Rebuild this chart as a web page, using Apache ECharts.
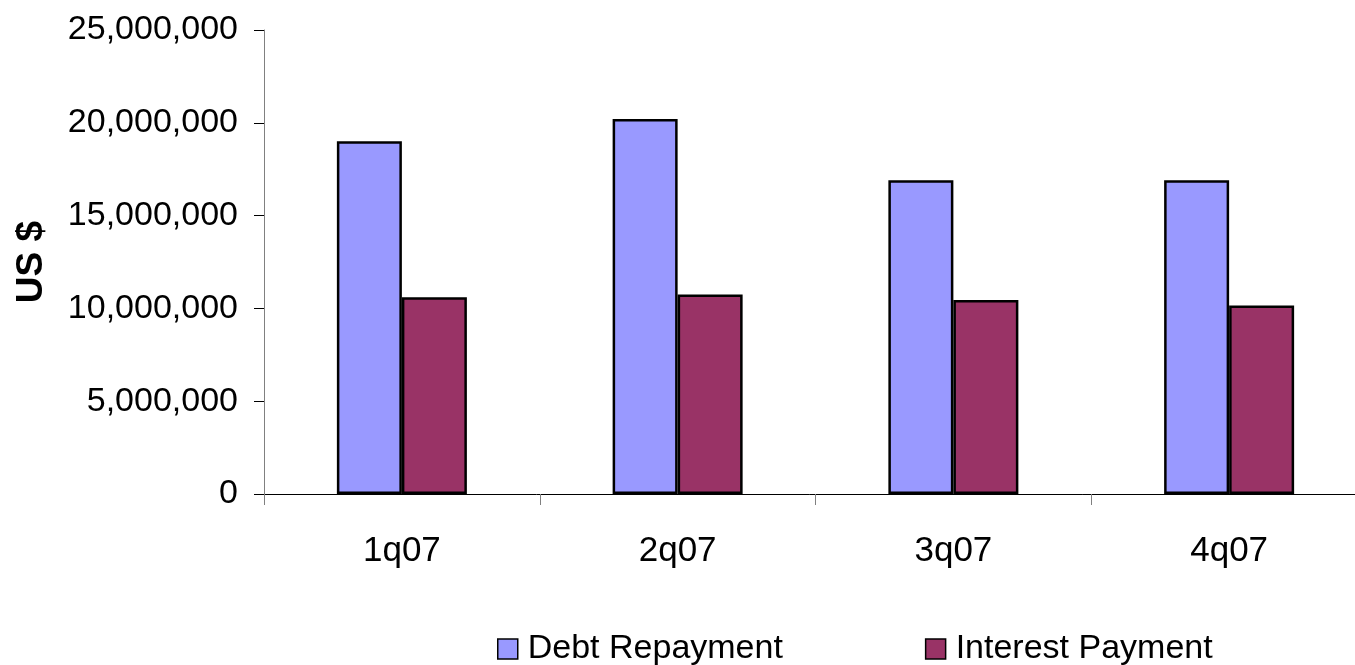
<!DOCTYPE html>
<html>
<head>
<meta charset="utf-8">
<title>Debt and Interest Payments 2007</title>
<script src="https://cdn.jsdelivr.net/npm/echarts@6/dist/echarts.min.js"></script>
<style>
  html, body { margin: 0; padding: 0; background: #ffffff; }
  #chart { width: 1355px; height: 665px; }
</style>
</head>
<body>
<div id="chart"></div>
<script>
// Quarterly payments, US $
const quarters = ['1q07', '2q07', '3q07', '4q07'];
const debtRepayment = [19000000, 20200000, 16900000, 16900000];
const interestPayment = [10600000, 10750000, 10450000, 10150000];
const seriesNames = ['Debt Repayment', 'Interest Payment'];
const yTicks = [0, 5000000, 10000000, 15000000, 20000000, 25000000];

const FONT = "'Liberation Sans', Arial, sans-serif";

function withCommas(v) {
  return String(v).replace(/\B(?=(\d{3})+(?!\d))/g, ',');
}

const chart = echarts.init(document.getElementById('chart'), null, { renderer: 'canvas' });

chart.setOption({
  backgroundColor: '#ffffff',
  animation: false,
  textStyle: { fontFamily: FONT },
  // the last category runs slightly past the right edge of the canvas
  grid: { left: 264, top: 30, width: 1103, height: 464, containLabel: false, outerBoundsMode: 'none' },
  legend: {
    left: 497,
    top: 632,
    padding: 0,
    itemWidth: 20,
    itemHeight: 20,
    itemGap: 142,
    icon: 'rect',
    itemStyle: { borderColor: '#000000', borderWidth: 1.5 },
    textStyle: { fontFamily: FONT, fontSize: 34, color: '#000000', padding: [0, 0, 0, 5] },
    data: seriesNames
  },
  xAxis: {
    type: 'category',
    data: quarters,
    axisLine: { lineStyle: { color: '#000000', width: 1 } },
    axisTick: { show: true, length: 11, inside: false, lineStyle: { color: '#808080' } },
    axisLabel: { fontFamily: FONT, fontSize: 35, color: '#000000', margin: 40 },
    splitLine: { show: false }
  },
  yAxis: {
    type: 'value',
    min: yTicks[0],
    max: yTicks[yTicks.length - 1],
    interval: yTicks[1] - yTicks[0],
    name: 'US $',
    nameLocation: 'middle',
    nameRotate: 90,
    nameGap: 214,
    nameTextStyle: { fontFamily: FONT, fontSize: 37, fontWeight: 'bold', color: '#000000' },
    axisLine: { show: true, lineStyle: { color: '#808080', width: 1 } },
    axisTick: { show: true, length: 10, inside: false, lineStyle: { color: '#000000' } },
    axisLabel: {
      fontFamily: FONT, fontSize: 34, color: '#000000', margin: 26,
      formatter: withCommas
    },
    splitLine: { show: false }
  },
  series: [
    {
      name: seriesNames[0],
      type: 'bar',
      data: debtRepayment,
      barWidth: 65,
      barGap: '0%',
      itemStyle: { color: '#9999FF', borderColor: '#000000', borderWidth: 2.5 }
    },
    {
      name: seriesNames[1],
      type: 'bar',
      data: interestPayment,
      barWidth: 65,
      barGap: '0%',
      itemStyle: { color: '#993366', borderColor: '#000000', borderWidth: 2.5 }
    }
  ]
});
</script>
</body>
</html>
